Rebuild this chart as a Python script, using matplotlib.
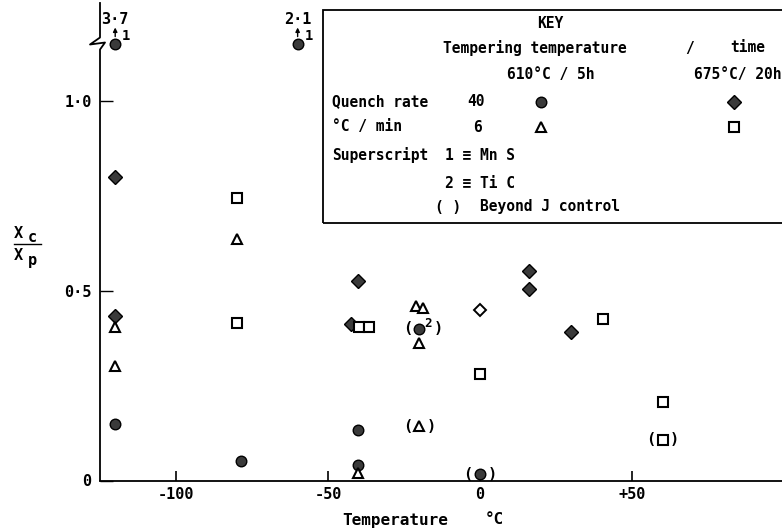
import numpy as np
import matplotlib
matplotlib.use("Agg")
import matplotlib.pyplot as plt
from matplotlib.patches import Rectangle
from matplotlib.lines import Line2D

plt.rcParams['font.family'] = ['DejaVu Sans Mono', 'DejaVu Sans']
plt.rcParams['font.weight'] = 'bold'

# quench 40 C/min, tempered 610 C / 5 h  (filled circles)
circ_t = [-120, -78.5, -40, -40, -120, -60]
circ_v = [0.149, 0.051, 0.133, 0.041, 3.7, 2.1]
# quench 40 C/min, tempered 675 C / 20 h  (filled diamonds)
diam_t = [-120, -120, -40, -42.5, 16, 16, 30]
diam_v = [0.80, 0.433, 0.525, 0.411, 0.552, 0.504, 0.39]
# quench 6 C/min, tempered 610 C / 5 h  (open triangles)
tri_t = [-120, -120, -80, -40, -21, -18.7, -20]
tri_v = [0.405, 0.302, 0.635, 0.019, 0.459, 0.453, 0.361]
# quench 6 C/min, tempered 675 C / 20 h  (open squares)
sq_t = [-80, -80, -39.7, -36.4, 0, 40.3, 60]
sq_v = [0.743, 0.414, 0.405, 0.405, 0.28, 0.425, 0.206]
# odd point drawn as an open diamond
odd_t = [0]
odd_v = [0.45]

# points beyond J control (bracketed)
bc_circ_t = [-20, 0]
bc_circ_v = [0.40, 0.017]
bc_circ_sup = ['2', '']
bc_tri_t = [-20]
bc_tri_v = [0.143]
bc_sq_t = [60]
bc_sq_v = [0.107]

# off-scale values, superscript 1 (MnS)
off_idx = [4, 5]

xticks = [-100, -50, 0, 50]
xlabels = ['-100', '-50', '0', '+50']
yticks = [0, 0.5, 1.0]
ylabels = ['0', '0·5', '1·0']

BREAK_Y = 1.15
W, H = 782, 532

fig = plt.figure(figsize=(W / 100, H / 100), dpi=100)
ax = fig.add_axes([100 / W, (H - 480.5) / H, 682 / W, 477.5 / H])
ax.set_xlim(-125, 99.3)
ax.set_ylim(0, 1.2566)


def fx(x):
    return x / W


def fy(y):
    return 1 - y / H


dark = '#3a3a3a'
circ_kw = dict(marker='o', ms=7.6, mfc=dark, mec='k', mew=1.0, ls='none', clip_on=False)
diam_kw = dict(marker='D', ms=7.4, mfc=dark, mec='k', mew=1.0, ls='none', clip_on=False)
tri_kw = dict(marker='^', ms=7, mfc='white', mec='k', mew=1.5, ls='none', clip_on=False)
sq_kw = dict(marker='s', ms=6.5, mfc='white', mec='k', mew=1.5, ls='none', clip_on=False)
odd_kw = dict(marker='D', ms=6.4, mfc='white', mec='k', mew=1.4, ls='none', clip_on=False)

circ_plot_v = np.minimum(circ_v, BREAK_Y)
ax.plot(circ_t, circ_plot_v, **circ_kw)
ax.plot(diam_t, diam_v, **diam_kw)
ax.plot(tri_t, tri_v, **tri_kw)
ax.plot(sq_t, sq_v, **sq_kw)
ax.plot(odd_t, odd_v, **odd_kw)

ax.plot(bc_circ_t, bc_circ_v, **circ_kw)
ax.plot(bc_tri_t, bc_tri_v, **tri_kw)
ax.plot(bc_sq_t, bc_sq_v, **sq_kw)

# brackets round the points beyond J control
bc_pts = list(zip(bc_circ_t, bc_circ_v, bc_circ_sup)) + \
    [(t, v, '') for t, v in zip(bc_tri_t, bc_tri_v)] + \
    [(t, v, '') for t, v in zip(bc_sq_t, bc_sq_v)]
for t, v, sup in bc_pts:
    right = 19 if sup else 12
    ax.annotate('(', (t, v), xytext=(-12, 0), textcoords='offset pixels',
                ha='center', va='center', fontsize=11)
    ax.annotate(')', (t, v), xytext=(right, 0), textcoords='offset pixels',
                ha='center', va='center', fontsize=11)
    if sup:
        ax.annotate(sup, (t, v), xytext=(9, 5), textcoords='offset pixels',
                    ha='center', va='center', fontsize=9)

# off-scale points: arrow, true value and superscript
for i in off_idx:
    t, v = circ_t[i], circ_plot_v[i]
    ax.annotate('', (t, v), xytext=(0, 16), textcoords='offset pixels',
                arrowprops=dict(arrowstyle='<|-', color='k', lw=1.0,
                                shrinkA=0, shrinkB=5, mutation_scale=6))
    ax.annotate(f'{circ_v[i]:.1f}'.replace('.', '·'), (t, v), xytext=(0, 24),
                textcoords='offset pixels', ha='center', va='center',
                fontsize=11)
    ax.annotate('1', (t, v), xytext=(11, 8), textcoords='offset pixels',
                ha='center', va='center', fontsize=10)

# axes: left spine redrawn with a break
for s in ['top', 'right', 'left']:
    ax.spines[s].set_visible(False)
ax.spines['bottom'].set_linewidth(1.3)
dx = 1 / 3.04
dy = 1 / 380
xa = -125
ax.plot([xa, xa, xa - 10 * dx, xa + 5 * dx, xa, xa],
        [1.2566, BREAK_Y + 6 * dy, BREAK_Y - 1 * dy, BREAK_Y + 1 * dy,
         BREAK_Y - 6 * dy, 0], color='k', lw=1.3, clip_on=False)

ax.set_xticks(xticks)
ax.set_xticklabels(xlabels)
ax.set_yticks(yticks)
ax.set_yticklabels(ylabels)
ax.tick_params(axis='x', direction='in', length=7, width=1.2, pad=5, labelsize=11)
ax.tick_params(axis='y', direction='in', length=9, width=1.0, pad=6, labelsize=11)

fig.text(fx(342), fy(520), 'Temperature', ha='left', va='center', fontsize=11.5)
fig.text(fx(485), fy(520), '°C', ha='left', va='center', fontsize=11.5)

# y label as a fraction
fig.text(fx(14), fy(234), 'X', ha='left', va='center', fontsize=11)
fig.text(fx(28), fy(237), 'c', ha='left', va='center', fontsize=11)
fig.text(fx(14), fy(256), 'X', ha='left', va='center', fontsize=11)
fig.text(fx(28), fy(261), 'p', ha='left', va='center', fontsize=11)
fig.add_artist(Line2D([fx(14), fx(41)], [fy(244), fy(244)], color='k', lw=1.0))

# key box
fig.add_artist(Rectangle((fx(323), fy(223)), fx(500), (223 - 10) / H,
                         transform=fig.transFigure, fill=False, ec='k', lw=1.3))
key_fs = 10.5
fig.text(fx(550), fy(23), 'KEY', ha='center', va='center', fontsize=key_fs)
fig.text(fx(443), fy(48), 'Tempering temperature', ha='left', va='center', fontsize=key_fs)
fig.text(fx(690), fy(48), '/', ha='center', va='center', fontsize=key_fs)
fig.text(fx(730), fy(48), 'time', ha='left', va='center', fontsize=key_fs)
fig.text(fx(507), fy(75), '610°C / 5h', ha='left', va='center', fontsize=key_fs)
fig.text(fx(781), fy(75), '675°C/ 20h', ha='right', va='center', fontsize=key_fs)
fig.text(fx(332), fy(102), 'Quench rate', ha='left', va='center', fontsize=key_fs)
fig.text(fx(476), fy(102), '40', ha='center', va='center', fontsize=key_fs)
fig.text(fx(332), fy(127), '°C / min', ha='left', va='center', fontsize=key_fs)
fig.text(fx(477), fy(127), '6', ha='center', va='center', fontsize=key_fs)
fig.text(fx(332), fy(155), 'Superscript', ha='left', va='center', fontsize=key_fs)
fig.text(fx(445), fy(155), '1 ≡ Mn S', ha='left', va='center', fontsize=key_fs)
fig.text(fx(445), fy(183), '2 ≡ Ti C', ha='left', va='center', fontsize=key_fs)
fig.text(fx(448), fy(207), '( )', ha='center', va='center', fontsize=key_fs)
fig.text(fx(480), fy(207), 'Beyond J control', ha='left', va='center', fontsize=key_fs)

for (kx, ky), kw in [((541, 102), circ_kw), ((734, 102), diam_kw),
                     ((541, 127), tri_kw), ((734, 127), sq_kw)]:
    fig.add_artist(Line2D([fx(kx)], [fy(ky)], transform=fig.transFigure, **kw))

fig.savefig('out.png', dpi=100)
